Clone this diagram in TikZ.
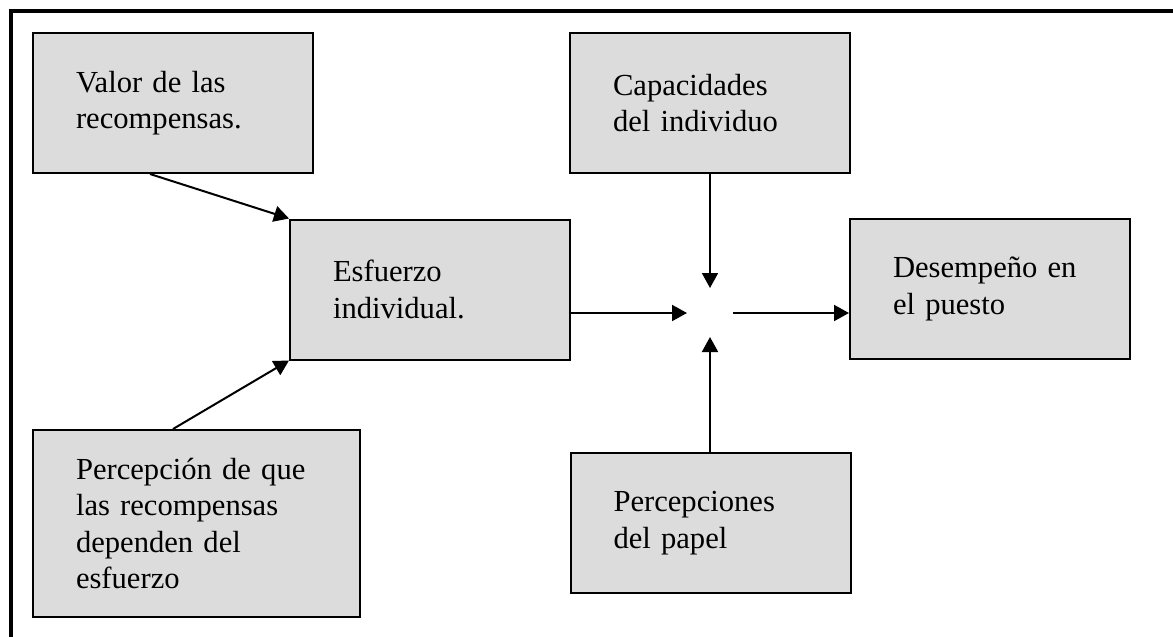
\documentclass[tikz,border=0pt]{standalone}
\usepackage{fontspec}
\setmainfont{Liberation Serif}
\usetikzlibrary{arrows.meta}
\definecolor{boxgray}{RGB}{220,220,220}
\tikzset{
  factor/.style={draw, line width=1pt, fill=boxgray, rectangle, align=left,
    inner xsep=21.5pt, inner ysep=0pt, text width=97pt, minimum height=70pt,
    font=\fontsize{15.3}{18.25}\selectfont},
  flow/.style={line width=1pt, -{Triangle[length=7.5pt, width=8pt]}}
}
\begin{document}
\begin{tikzpicture}[x=0.5pt, y=-0.5pt]
  \useasboundingbox (0,0) rectangle (1173,637);
  \draw[line width=1.6pt] (11,640) -- (11,11) -- (1176,11);

  \node[factor] (valor) at (173,103) {Valor de las\\recompensas.};
  \node[factor] (esfuerzo) at (430,289.5) {Esfuerzo\\individual.};
  \node[factor, text width=120.5pt, minimum height=93.5pt] (percep) at (196.5,523.5)
    {Percepción de que\\las recompensas\\dependen del\\esfuerzo};
  \node[factor] (capac) at (710,103) {Capacidades\\del individuo};
  \node[factor] (desemp) at (990,289) {Desempeño en\\el puesto};
  \node[factor] (papel) at (710.5,523) {Percepciones\\del papel};

  \coordinate (hub) at (710,313);

  \draw[flow] ([xshift=-11.5pt]valor.south) -- (esfuerzo.north west);
  \draw[flow] ([xshift=-11.75pt]percep.north) -- (esfuerzo.south west);
  \draw[flow] (capac.south) -- ([yshift=12.5pt]hub);
  \draw[flow] (papel.north -| hub) -- ([yshift=-12pt]hub);
  \draw[flow] (esfuerzo.east |- hub) -- ([xshift=-11.5pt]hub);
  \draw[flow] ([xshift=11.5pt]hub) -- (desemp.west |- hub);
\end{tikzpicture}
\end{document}
